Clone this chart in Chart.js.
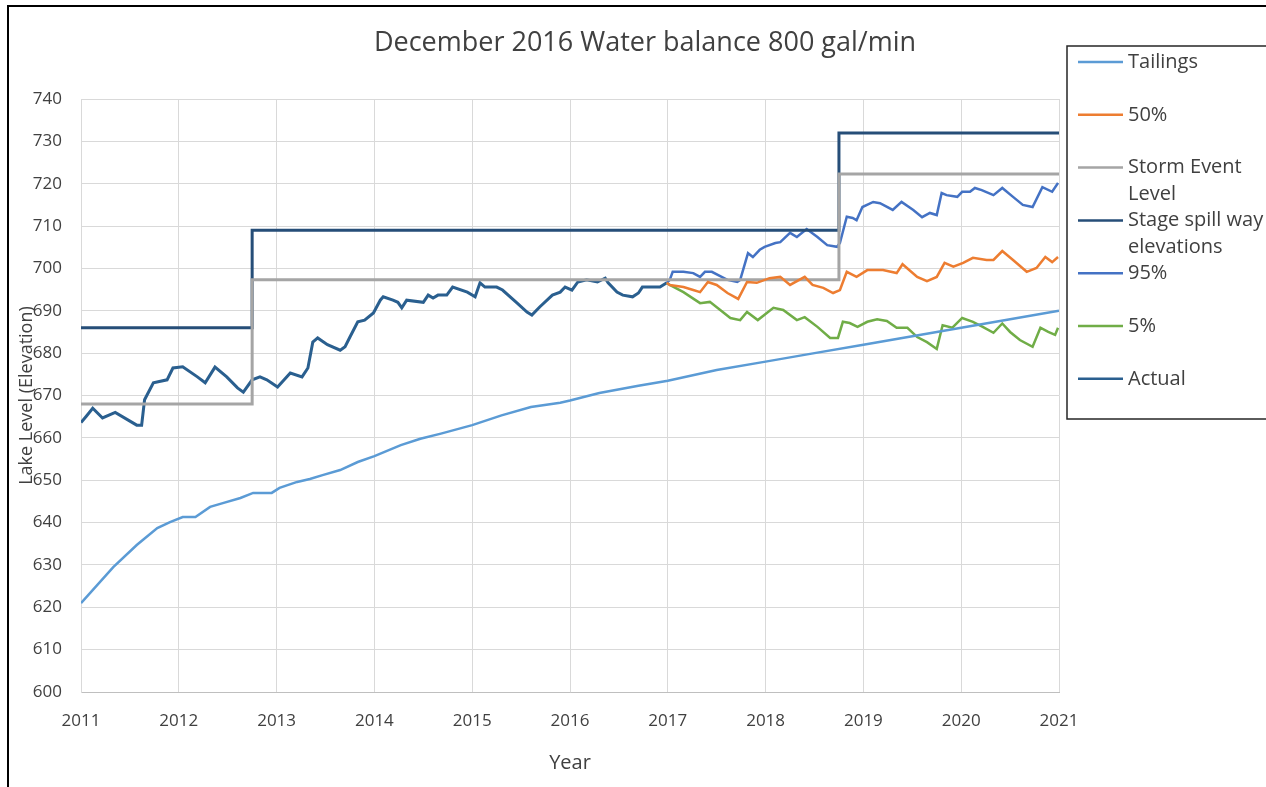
<!DOCTYPE html>
<html>
<head>
<meta charset="utf-8">
<title>December 2016 Water balance 800 gal/min</title>
<script src="https://cdn.jsdelivr.net/npm/chart.js@4"></script>
<style>
  html, body { margin: 0; padding: 0; background: #fff; }
  #wrap { width: 1266px; height: 787px; }
</style>
</head>
<body>
<div id="wrap"><canvas id="myChart" width="1266" height="787"></canvas></div>
<script>
// values (x = decimal year, y = lake elevation)
const yearTicks = [2011, 2012, 2013, 2014, 2015, 2016, 2017, 2018, 2019, 2020, 2021];

const tailingsYears = [2011.0, 2011.33, 2011.57, 2011.78, 2011.91, 2012.04, 2012.17, 2012.32, 2012.45, 2012.63, 2012.76, 2012.95, 2013.03, 2013.21, 2013.34, 2013.47, 2013.65, 2013.83, 2014.0, 2014.27, 2014.47, 2014.68, 2015.0, 2015.3, 2015.6, 2015.9, 2016.0, 2016.3, 2016.7, 2017.0, 2017.5, 2018.0, 2018.5, 2019.0, 2019.5, 2020.0, 2020.5, 2021.0];
const tailingsLevels = [621, 629.5, 634.7, 638.7, 640.1, 641.3, 641.3, 643.7, 644.6, 645.8, 647, 647, 648.2, 649.6, 650.3, 651.2, 652.4, 654.3, 655.7, 658.3, 659.8, 661, 663, 665.3, 667.3, 668.3, 668.8, 670.6, 672.3, 673.5, 676, 678, 680, 682, 684, 686, 688, 690];

const p50Years = [2016.99, 2017.02, 2017.16, 2017.26, 2017.33, 2017.41, 2017.5, 2017.61, 2017.72, 2017.81, 2017.91, 2018.04, 2018.15, 2018.25, 2018.4, 2018.48, 2018.59, 2018.69, 2018.76, 2018.83, 2018.93, 2019.04, 2019.2, 2019.34, 2019.4, 2019.55, 2019.65, 2019.75, 2019.83, 2019.92, 2020.02, 2020.12, 2020.26, 2020.33, 2020.42, 2020.53, 2020.67, 2020.77, 2020.86, 2020.93, 2020.99];
const p50Levels = [696.6, 696.1, 695.6, 694.9, 694.4, 696.8, 696.1, 694.2, 692.8, 696.8, 696.6, 697.7, 698, 696.1, 698, 696.1, 695.4, 694.2, 694.9, 699.2, 698, 699.6, 699.6, 698.9, 701, 698, 697, 698, 701.3, 700.4, 701.3, 702.5, 702, 702, 704.1, 702, 699.2, 700.1, 702.7, 701.5, 702.7];

const stormYears = [2011, 2012.75, 2018.75, 2021];
const stormLevels = [668, 697.3, 722.3, 722.3];

const spillYears = [2011, 2012.75, 2018.75, 2021];
const spillLevels = [686, 709, 732, 732];

const p95Years = [2016.99, 2017.02, 2017.05, 2017.16, 2017.26, 2017.33, 2017.38, 2017.45, 2017.61, 2017.71, 2017.74, 2017.82, 2017.87, 2017.94, 2017.99, 2018.1, 2018.15, 2018.25, 2018.32, 2018.42, 2018.53, 2018.63, 2018.73, 2018.76, 2018.83, 2018.89, 2018.93, 2018.99, 2019.1, 2019.17, 2019.3, 2019.39, 2019.51, 2019.6, 2019.68, 2019.75, 2019.8, 2019.85, 2019.96, 2020.01, 2020.09, 2020.14, 2020.21, 2020.33, 2020.42, 2020.53, 2020.63, 2020.73, 2020.83, 2020.93, 2020.99];
const p95Levels = [696.6, 697.3, 699.2, 699.2, 698.9, 698, 699.2, 699.2, 697.3, 696.8, 697.3, 703.6, 702.7, 704.4, 705.1, 706, 706.2, 708.4, 707.4, 709.3, 707.4, 705.5, 705.1, 706, 712.2, 711.9, 711.4, 714.5, 715.7, 715.4, 713.8, 715.7, 713.8, 712.1, 713.1, 712.6, 717.8, 717.3, 716.9, 718.1, 718.1, 719, 718.5, 717.3, 719, 716.9, 715, 714.5, 719.2, 718.1, 720.2];

const p5Years = [2016.99, 2017.02, 2017.16, 2017.33, 2017.43, 2017.64, 2017.74, 2017.81, 2017.92, 2018.08, 2018.18, 2018.32, 2018.4, 2018.53, 2018.66, 2018.74, 2018.79, 2018.86, 2018.94, 2019.04, 2019.14, 2019.24, 2019.34, 2019.45, 2019.55, 2019.65, 2019.75, 2019.81, 2019.91, 2020.01, 2020.12, 2020.22, 2020.33, 2020.42, 2020.5, 2020.6, 2020.73, 2020.81, 2020.89, 2020.96, 2020.99];
const p5Levels = [696.6, 696.1, 694.4, 691.8, 692.1, 688.3, 687.8, 689.7, 687.8, 690.7, 690.2, 687.8, 688.5, 686.2, 683.6, 683.6, 687.4, 687.1, 686.2, 687.4, 688, 687.6, 686, 686, 683.8, 682.6, 681, 686.6, 686, 688.3, 687.4, 686.2, 684.8, 687, 685, 683.1, 681.5, 686, 685, 684.3, 686];

const actualYears = [2011.0, 2011.05, 2011.12, 2011.22, 2011.35, 2011.57, 2011.62, 2011.65, 2011.74, 2011.88, 2011.94, 2012.04, 2012.19, 2012.27, 2012.37, 2012.49, 2012.6, 2012.66, 2012.75, 2012.83, 2012.9, 2013.01, 2013.14, 2013.26, 2013.32, 2013.37, 2013.42, 2013.52, 2013.65, 2013.7, 2013.75, 2013.83, 2013.9, 2013.99, 2014.06, 2014.09, 2014.19, 2014.24, 2014.28, 2014.33, 2014.5, 2014.55, 2014.6, 2014.65, 2014.74, 2014.8, 2014.95, 2015.03, 2015.08, 2015.13, 2015.25, 2015.31, 2015.46, 2015.56, 2015.61, 2015.69, 2015.82, 2015.9, 2015.95, 2016.02, 2016.08, 2016.17, 2016.28, 2016.36, 2016.39, 2016.48, 2016.54, 2016.64, 2016.7, 2016.74, 2016.82, 2016.92, 2016.99];
const actualLevels = [663.6, 665, 667, 664.7, 666, 663, 663, 669, 673, 673.7, 676.5, 676.8, 674.4, 673, 676.7, 674.4, 671.8, 670.8, 673.7, 674.4, 673.7, 672, 675.3, 674.4, 676.5, 682.6, 683.6, 682, 680.7, 681.5, 683.8, 687.4, 687.8, 689.5, 692.5, 693.3, 692.5, 692, 690.7, 692.5, 692, 693.7, 693, 693.7, 693.7, 695.6, 694.4, 693.3, 696.6, 695.6, 695.6, 694.9, 691.8, 689.7, 689, 690.9, 693.7, 694.4, 695.6, 694.9, 696.8, 697.3, 696.8, 697.7, 696.6, 694.4, 693.7, 693.3, 694.2, 695.6, 695.6, 695.6, 696.6];

const legendNames = [["Tailings"], ["50%"], ["Storm Event", "Level"], ["Stage spill way", "elevations"], ["95%"], ["5%"], ["Actual"]];

const FONT = "'Open Sans', 'Noto Sans', sans-serif";
const TEXT = "#404040";

const pts = (xs, ys) => xs.map((x, i) => ({ x: x, y: ys[i] }));

const makeSet = function (name, xs, ys, color, width, stepped) {
  return {
    label: name,
    data: pts(xs, ys),
    borderColor: color,
    backgroundColor: color,
    borderWidth: width,
    pointRadius: 0,
    tension: 0,
    stepped: stepped || false,
    fill: false,
  };
};

const data = {
  datasets: [
    makeSet("Tailings", tailingsYears, tailingsLevels, "#5B9BD5", 2.5),
    makeSet("50%", p50Years, p50Levels, "#ED7D31", 2.5),
    makeSet("Storm Event Level", stormYears, stormLevels, "#A5A5A5", 3, true),
    makeSet("Stage spill way elevations", spillYears, spillLevels, "#264E78", 3, true),
    makeSet("95%", p95Years, p95Levels, "#4472C4", 2.5),
    makeSet("5%", p5Years, p5Levels, "#70AD47", 2.5),
    makeSet("Actual", actualYears, actualLevels, "#2A5F8F", 3),
  ],
};

// title, frame and the boxed legend on the right
const decorations = {
  id: "decorations",
  beforeDraw(chart) {
    const c = chart.ctx;
    c.save();
    c.fillStyle = "#fff";
    c.fillRect(0, 0, chart.width, chart.height);
    c.strokeStyle = "#000";
    c.lineWidth = 2;
    c.beginPath();
    c.moveTo(8, chart.height);
    c.lineTo(8, 6);
    c.lineTo(chart.width, 6);
    c.stroke();
    c.restore();
  },
  afterDraw(chart) {
    const c = chart.ctx;
    c.save();
    c.fillStyle = TEXT;
    c.font = "27px " + FONT;
    c.textAlign = "center";
    c.textBaseline = "middle";
    c.fillText("December 2016 Water balance 800 gal/min", 645, 43);

    // legend box
    c.strokeStyle = "#262626";
    c.lineWidth = 1.5;
    c.strokeRect(1067, 46, 230, 373);
    c.font = "20px " + FONT;
    c.textAlign = "left";
    chart.data.datasets.forEach((ds, i) => {
      const y = 62 + i * 52.8;
      c.strokeStyle = ds.borderColor;
      c.lineWidth = 2.5;
      c.beginPath();
      c.moveTo(1078, y);
      c.lineTo(1123, y);
      c.stroke();
      c.fillStyle = TEXT;
      legendNames[i].forEach((line, k) => {
        c.fillText(line, 1128, y + k * 27);
      });
    });
    c.restore();
  },
};

const config = {
  type: "line",
  data,
  options: {
    responsive: false,
    animation: false,
    layout: { padding: { top: 99, right: 207, left: 0, bottom: 0 } },
    plugins: {
      legend: { display: false },
      title: { display: false },
      tooltip: { enabled: false },
    },
    scales: {
      x: {
        type: "linear",
        min: 2011,
        max: 2021,
        afterBuildTicks: (scale) => {
          scale.ticks = yearTicks.map((v) => ({ value: v }));
        },
        afterFit: (scale) => {
          scale.height = 95;
        },
        ticks: {
          callback: (v) => String(v),
          color: TEXT,
          font: { family: FONT, size: 17 },
          padding: 19,
          maxRotation: 0,
        },
        grid: { color: "#D9D9D9", lineWidth: 1, drawTicks: false },
        border: { color: "#BFBFBF" },
        title: {
          display: true,
          text: "Year",
          color: TEXT,
          font: { family: FONT, size: 20 },
          padding: { top: 0, bottom: 12 },
        },
      },
      y: {
        min: 600,
        max: 740,
        afterFit: (scale) => {
          scale.width = 81;
        },
        ticks: {
          stepSize: 10,
          color: TEXT,
          font: { family: FONT, size: 17 },
          padding: 19,
        },
        grid: { color: "#D9D9D9", lineWidth: 1, drawTicks: false },
        border: { color: "#D9D9D9" },
        title: {
          display: true,
          text: "Lake Level (Elevation)",
          color: TEXT,
          font: { family: FONT, size: 18 },
          padding: { top: 16, bottom: 0 },
        },
      },
    },
  },
  plugins: [decorations],
};

let myChart = new Chart(document.getElementById("myChart"), config);
</script>
</body>
</html>
